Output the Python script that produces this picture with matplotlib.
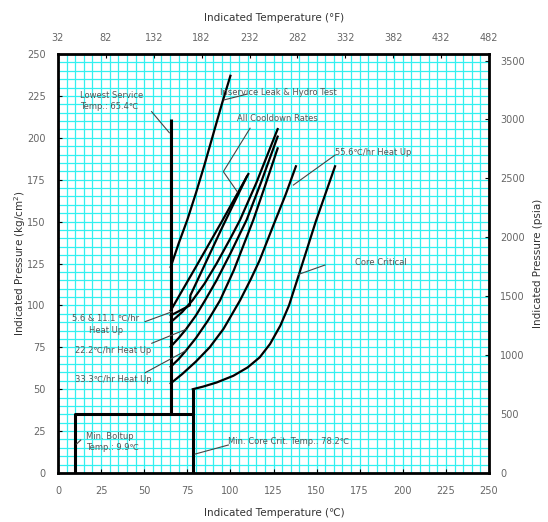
import numpy as np
import matplotlib
matplotlib.use("Agg")
import matplotlib.pyplot as plt

# ---------------- data ----------------
x_ticks_c = list(range(0, 251, 25))
y_ticks_kg = list(range(0, 251, 25))
top_ticks_f = list(range(32, 483, 50))
right_ticks_psi = list(range(0, 3501, 500))

# limits lines (deg C, kg/cm2)
lowest_service_x = [65.4, 65.4]
lowest_service_y = [35, 211]
boltup_x = [9.9, 9.9, 78.2]
boltup_y = [0, 35, 35]
core_min_x = [78.2, 78.2]
core_min_y = [0, 50]

inservice_x = [65.4, 70, 75, 80, 85, 90, 95, 100]
inservice_y = [123, 137, 151, 167, 184, 202, 220, 237]

cool1_x = [65.4, 80, 95, 110.4]
cool1_y = [97, 123, 150, 178.4]
cool2_x = [65.4, 76.5, 76.8, 95, 109.6]
cool2_y = [94, 100, 106, 146, 177]

heat_5_x = [65.4, 72, 78, 85, 92, 100, 105.6, 115, 127.4]
heat_5_y = [90, 96, 103, 113, 125, 140, 151, 173, 205.2]
heat_22_x = [65.4, 70, 74.2, 80, 85.3, 92, 100, 109.4, 118, 127.4]
heat_22_y = [75.4, 80.5, 85.7, 94, 103, 115, 131, 151, 174, 200.7]
heat_33_x = [65.4, 70, 74.2, 80, 87, 94, 102, 113.3, 120, 127.4]
heat_33_y = [63.4, 68, 73, 80.5, 91, 103, 121, 151, 171, 193.7]
heat_55_x = [65.4, 72, 80, 88, 96, 105.6, 112, 117, 125, 132, 138]
heat_55_y = [53.5, 59, 66.5, 75, 86, 103, 116, 127, 148, 166, 183]
core_x = [78.2, 84, 92, 101.7, 110, 117, 123, 129, 134, 139, 149.5, 160.7]
core_y = [50, 51.5, 54, 58, 63, 69, 77, 88, 100, 116, 150, 183]

# ---------------- figure ----------------
fig = plt.figure(figsize=(5.48, 5.22), dpi=100)
ax = fig.add_axes([58/548, 49/522, 431/548, 419/522])
ax.set_xlim(0, 250)
ax.set_ylim(0, 250)

ax.set_xticks(x_ticks_c)
ax.set_yticks(y_ticks_kg)
ax.set_xticks(np.arange(0, 251, 5), minor=True)
ax.set_yticks(np.arange(0, 251, 5), minor=True)
ax.grid(True, which='both', color='#33f0f0', lw=0.9)
ax.set_axisbelow(True)
ax.tick_params(which='minor', length=0)
ax.tick_params(which='major', direction='in', length=3, width=0.8,
               labelsize=7, labelcolor='#666666', pad=9)
for s in ax.spines.values():
    s.set_linewidth(2)
    s.set_color('black')

c2f = lambda c: c * 1.8 + 32
f2c = lambda f: (f - 32) / 1.8
kg2psi = lambda k: k * 14.223
psi2kg = lambda p: p / 14.223
secx = ax.secondary_xaxis('top', functions=(c2f, f2c))
secx.set_xticks(top_ticks_f)
secx.tick_params(direction='in', length=3, width=0.8, labelsize=7,
                 labelcolor='#666666', pad=8)
secy = ax.secondary_yaxis('right', functions=(kg2psi, psi2kg))
secy.set_yticks(right_ticks_psi)
secy.tick_params(direction='in', length=3, width=0.8, labelsize=7,
                 labelcolor='#666666', pad=8)
for s in list(secx.spines.values()) + list(secy.spines.values()):
    s.set_visible(False)

lab_kw = dict(fontsize=7.5, color='#333333', ha='center', va='center')
fig.text(274/548, 1 - 513/522, 'Indicated Temperature (℃)', **lab_kw)
fig.text(274/548, 1 - 18/522, 'Indicated Temperature (°F)', **lab_kw)
fig.text(20/548, 1 - 263/522, 'Indicated Pressure (kg/cm$^2$)', rotation=90, **lab_kw)
fig.text(538/548, 1 - 263/522, 'Indicated Pressure (psia)', rotation=90, **lab_kw)

thick = dict(color='black', lw=2.2, solid_capstyle='butt')
ax.plot(lowest_service_x, lowest_service_y, **thick)
ax.plot(boltup_x, boltup_y, **thick)
ax.plot(core_min_x, core_min_y, **thick)

curve = dict(color='black', lw=1.6)
for xs, ys in [(inservice_x, inservice_y), (cool1_x, cool1_y), (cool2_x, cool2_y),
               (heat_5_x, heat_5_y), (heat_22_x, heat_22_y), (heat_33_x, heat_33_y),
               (heat_55_x, heat_55_y), (core_x, core_y)]:
    ax.plot(xs, ys, **curve)

# annotations
tk = dict(fontsize=6, color='#555555', va='center')
def note(x, y, s, **kw):
    d = dict(tk); d.update(kw)
    ax.text(x, y, s, **d)
def ptr(xs, ys):
    ax.plot(xs, ys, color='#444444', lw=0.8)

note(12.8, 222, 'Lowest Service\nTemp.: 65.4℃', linespacing=1.4)
ptr([54.3, 64.6], [215.6, 203])
note(94, 227.3, 'Inservice Leak & Hydro Test')
ptr([109.4, 96.3], [226, 222.6])
note(103.8, 211.8, 'All Cooldown Rates')
ptr([111.4, 95.9, 104], [205.7, 179.8, 167.8])
note(160.7, 191.5, '55.6℃/hr Heat Up')
ptr([160.7, 136.5], [189.7, 171.8])
note(172.3, 125.5, 'Core Critical')
ptr([154.9, 139.5], [124.1, 118.5])
note(8, 92.5, '5.6 & 11.1 ℃/hr')
note(18, 85.3, 'Heat Up')
ptr([50.5, 66.1], [90.3, 96.2])
note(9.9, 72.8, '22.2℃/hr Heat Up')
ptr([54.4, 74.2], [77.4, 85.7])
note(9.9, 56, '33.3℃/hr Heat Up')
ptr([50.5, 74.2], [59.8, 73])
note(16.2, 18.5, 'Min. Boltup\nTemp.: 9.9℃', linespacing=1.4)
ptr([13.2, 10.8], [19.7, 17.3])
note(98.6, 18.5, 'Min. Core Crit. Temp.: 78.2℃')
ptr([98.8, 79.5], [16.7, 11.3])

fig.savefig('out.png', dpi=100)
